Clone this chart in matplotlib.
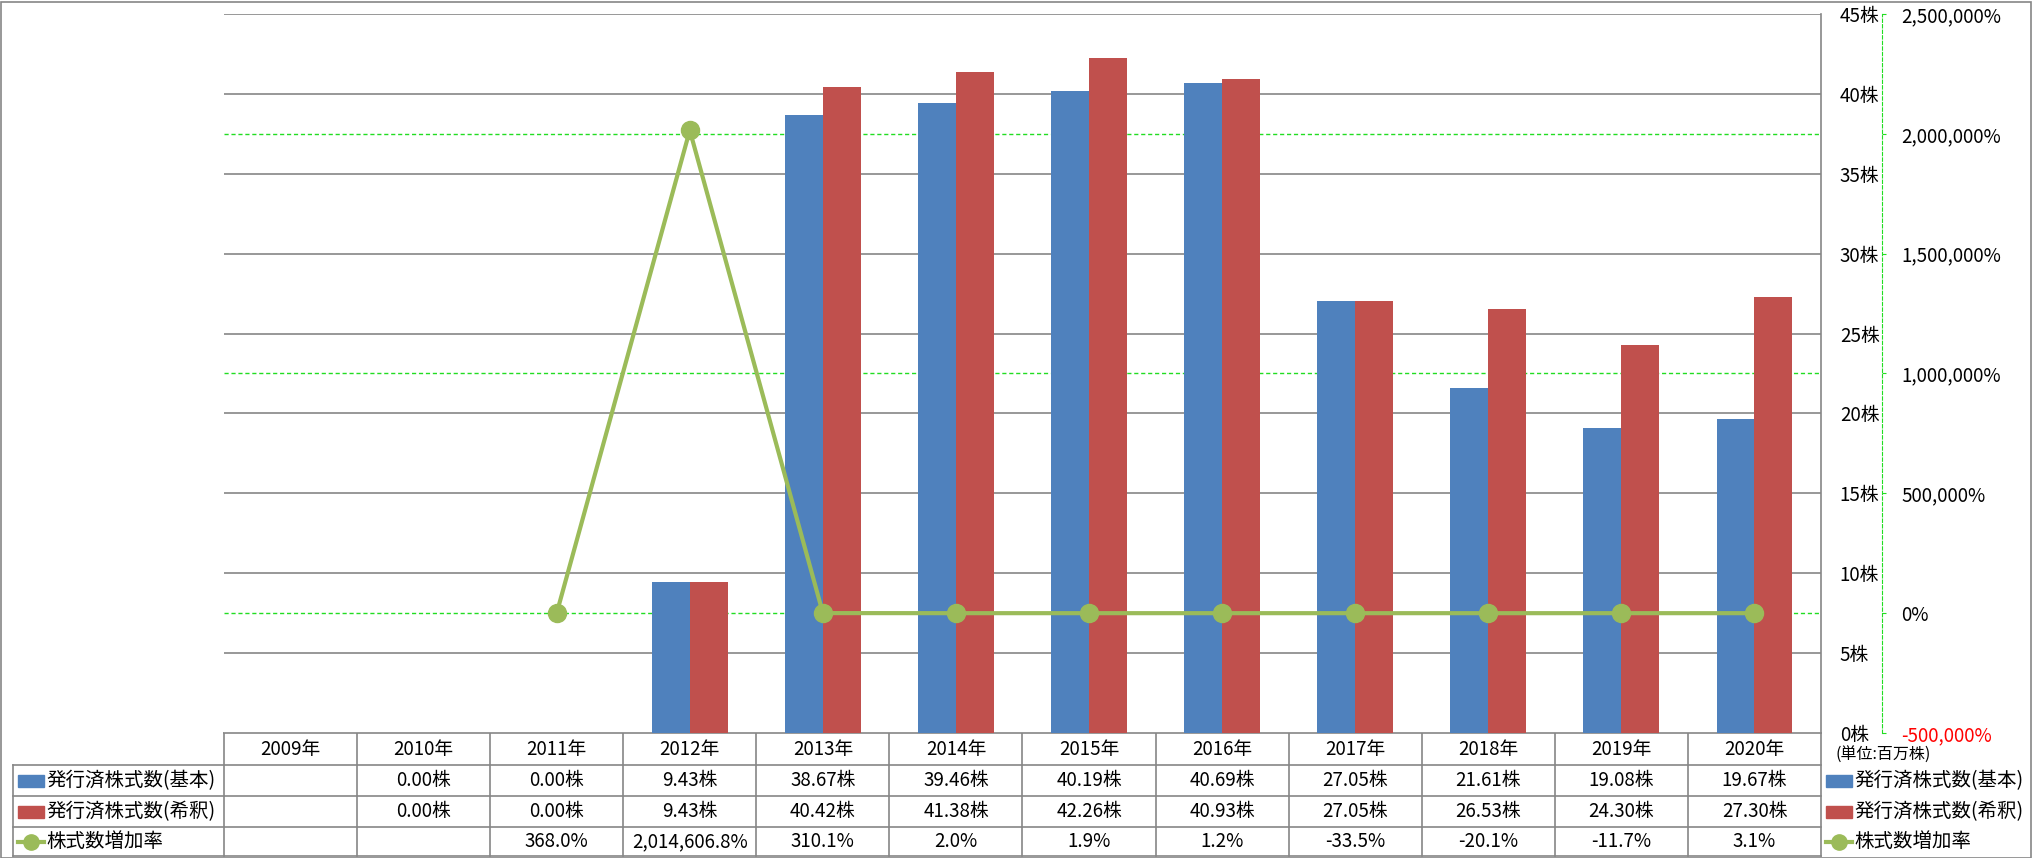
import numpy as np
import matplotlib
matplotlib.use('Agg')
import matplotlib.pyplot as plt
from matplotlib.patches import Rectangle

plt.rcParams['font.family'] = ['Noto Sans CJK JP', 'DejaVu Sans']

# data
years = ['2009年', '2010年', '2011年', '2012年', '2013年', '2014年',
         '2015年', '2016年', '2017年', '2018年', '2019年', '2020年']
basic = [np.nan, 0.00, 0.00, 9.43, 38.67, 39.46, 40.19, 40.69, 27.05, 21.61, 19.08, 19.67]
diluted = [np.nan, 0.00, 0.00, 9.43, 40.42, 41.38, 42.26, 40.93, 27.05, 26.53, 24.30, 27.30]
growth = [np.nan, np.nan, 368.0, 2014606.8, 310.1, 2.0, 1.9, 1.2, -33.5, -20.1, -11.7, 3.1]
series_names = ['発行済株式数(基本)', '発行済株式数(希釈)', '株式数増加率']

BLUE = '#4F81BD'
RED = '#C0504D'
GREEN = '#9BBB59'
GRID = '#868686'
LIME = '#22DD22'
FS = 13.5      # ticks and table cells
FS_LEG = 14    # series names

W, H = 2033, 858
fig = plt.figure(figsize=(W / 100, H / 100), dpi=100)

# plot area in pixels
left, right, top, bottom = 224, 1821, 14, 733
ax = fig.add_axes([left / W, 1 - bottom / H, (right - left) / W, (bottom - top) / H])
n = len(years)
x = np.arange(n) + 0.5
bw = 0.285
ax.bar(x - bw / 2, basic, bw, color=BLUE, zorder=2)
ax.bar(x + bw / 2, diluted, bw, color=RED, zorder=2)
ax.set_xlim(0, n)
ax.set_ylim(0, 45)

ax2 = ax.twinx()
# twinx moves the primary ticks back to the left, so set them afterwards
ax.yaxis.tick_right()
ax.set_yticks(np.arange(0, 46, 5))
ax.set_yticklabels([f'{v}株' for v in range(0, 46, 5)])
ax.tick_params(axis='y', length=0, pad=13.5, labelsize=FS)
ax.set_xticks([])
ax.yaxis.grid(True, color=GRID, lw=1.2)
ax.set_axisbelow(True)
for s in ['left', 'top', 'bottom']:
    ax.spines[s].set_visible(False)
ax.spines['right'].set_color(GRID)
ax.spines['right'].set_linewidth(1.2)

ax2.set_ylim(-500000, 2500000)
ticks2 = np.arange(-500000, 2500001, 500000)
ax2.set_yticks(ticks2)
ax2.set_yticklabels([f'{v:,}%' for v in ticks2])
ax2.spines['right'].set_position(('outward', 44))
ax2.spines['right'].set_color(LIME)
ax2.spines['right'].set_linestyle((0, (3, 2)))
for s in ['left', 'top', 'bottom']:
    ax2.spines[s].set_visible(False)
ax2.tick_params(axis='y', length=3, color=LIME, pad=11, labelsize=FS)
ax2.yaxis.get_major_ticks()[0].label2.set_color('red')

# secondary gridlines, drawn under the bars
for v in [0, 1000000, 2000000]:
    ax.plot([0, n], [v, v], transform=ax2.transData, color=LIME,
            lw=1, ls=(0, (3, 2)), zorder=1)

ax2.plot(x, growth, color=GREEN, lw=3, marker='o', ms=13, zorder=3)

# data table drawn in figure pixels
tab = fig.add_axes([0, 0, 1, 1], zorder=-1)
tab.set_xlim(0, W)
tab.set_ylim(H, 0)
tab.axis('off')
colw = (right - left) / n
rows = [733, 765, 796, 827, 856]
leg_left = 13
lc = dict(color=GRID, lw=1.2)
tab.plot([left, right], [rows[0], rows[0]], **lc)
for r in rows[1:]:
    tab.plot([leg_left, right], [r, r], **lc)
tab.plot([leg_left, leg_left], [rows[1], rows[-1]], **lc)
for i in range(n + 1):
    cx = left + i * colw
    tab.plot([cx, cx], [rows[0], rows[-1]], **lc)


def mid(k):
    return (rows[k] + rows[k + 1]) / 2


for i, yr in enumerate(years):
    cx = left + (i + 0.5) * colw
    tab.text(cx, mid(0), yr, ha='center', va='center', fontsize=FS)
    if not np.isnan(basic[i]):
        tab.text(cx, mid(1), f'{basic[i]:.2f}株', ha='center', va='center', fontsize=FS)
    if not np.isnan(diluted[i]):
        tab.text(cx, mid(2), f'{diluted[i]:.2f}株', ha='center', va='center', fontsize=FS)
    if not np.isnan(growth[i]):
        tab.text(cx, mid(3), f'{growth[i]:,.1f}%', ha='center', va='center', fontsize=FS)


def legend_keys(x0):
    for k, (name, col) in enumerate(zip(series_names, [BLUE, RED, GREEN])):
        ym = mid(k + 1)
        if k < 2:
            tab.add_patch(Rectangle((x0, ym - 6), 26, 12, color=col))
        else:
            tab.plot([x0, x0 + 26], [ym, ym], color=GREEN, lw=3)
            tab.plot([x0 + 13], [ym], marker='o', ms=11, color=GREEN)
        tab.text(x0 + 28, ym, name, ha='left', va='center', fontsize=FS_LEG)


legend_keys(18)
legend_keys(1826)
tab.text(1836, 755, '(単位:百万株)', ha='left', va='center', fontsize=11.5)

# outer border
fig.patches.append(Rectangle((0.5 / W, 0.5 / H), 1 - 2 / W, 1 - 2 / H,
                             transform=fig.transFigure, fill=False,
                             edgecolor=GRID, lw=1.2))

fig.savefig('out.png', dpi=100)
